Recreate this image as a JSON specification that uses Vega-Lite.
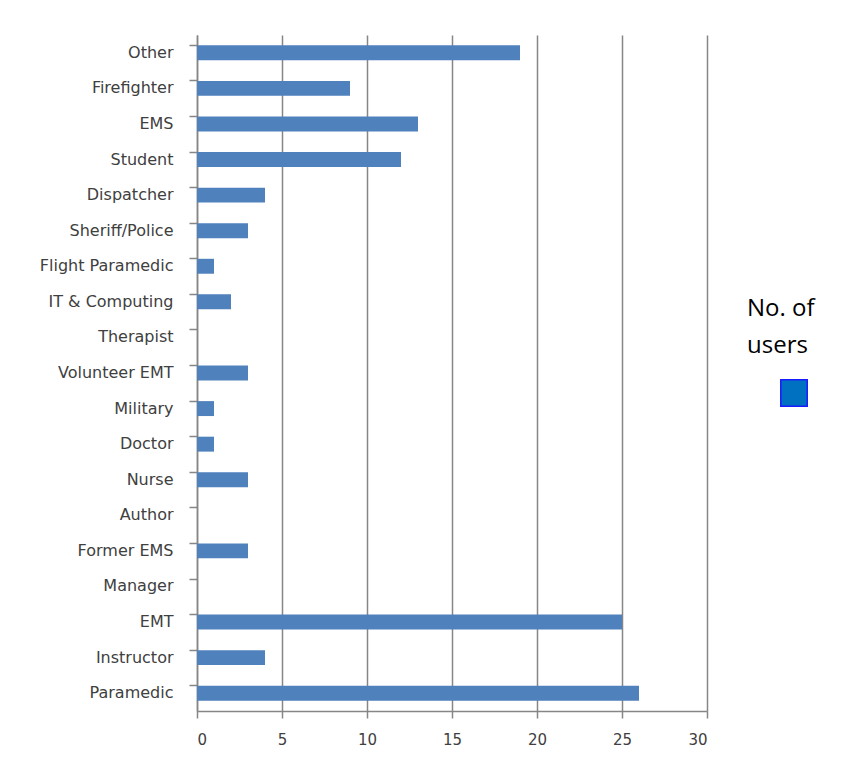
{
  "$schema": "https://vega.github.io/schema/vega-lite/v6.json",
  "width": 510,
  "height": 676,
  "autosize": "none",
  "padding": {"left": 197, "top": 35, "right": 143, "bottom": 51},
  "background": "white",
  "config": {
    "view": {"stroke": null},
    "font": "DejaVu Sans"
  },
  "data": {
    "values": [
      {"role": "Other", "users": 19, "series": "No. of users"},
      {"role": "Firefighter", "users": 9, "series": "No. of users"},
      {"role": "EMS", "users": 13, "series": "No. of users"},
      {"role": "Student", "users": 12, "series": "No. of users"},
      {"role": "Dispatcher", "users": 4, "series": "No. of users"},
      {"role": "Sheriff/Police", "users": 3, "series": "No. of users"},
      {"role": "Flight Paramedic", "users": 1, "series": "No. of users"},
      {"role": "IT & Computing", "users": 2, "series": "No. of users"},
      {"role": "Therapist", "users": 0, "series": "No. of users"},
      {"role": "Volunteer EMT", "users": 3, "series": "No. of users"},
      {"role": "Military", "users": 1, "series": "No. of users"},
      {"role": "Doctor", "users": 1, "series": "No. of users"},
      {"role": "Nurse", "users": 3, "series": "No. of users"},
      {"role": "Author", "users": 0, "series": "No. of users"},
      {"role": "Former EMS", "users": 3, "series": "No. of users"},
      {"role": "Manager", "users": 0, "series": "No. of users"},
      {"role": "EMT", "users": 25, "series": "No. of users"},
      {"role": "Instructor", "users": 4, "series": "No. of users"},
      {"role": "Paramedic", "users": 26, "series": "No. of users"}
    ]
  },
  "encoding": {
    "y": {
      "field": "role",
      "type": "nominal",
      "sort": null,
      "scale": {"paddingInner": 0.58, "paddingOuter": 0.29},
      "axis": {
        "title": null,
        "bandPosition": 0,
        "grid": false,
        "domainColor": "#868686",
        "domainWidth": 1.5,
        "tickColor": "#868686",
        "tickWidth": 1.5,
        "tickSize": 8,
        "labelPadding": 16,
        "labelFont": "DejaVu Sans",
        "labelFontSize": 16,
        "labelColor": "#404040",
        "labelBaseline": "middle"
      }
    },
    "x": {
      "field": "users",
      "type": "quantitative",
      "scale": {"domain": [0, 30], "nice": false},
      "axis": {
        "title": null,
        "values": [0, 5, 10, 15, 20, 25, 30],
        "grid": true,
        "gridColor": "#868686",
        "gridWidth": 1.5,
        "domainColor": "#868686",
        "domainWidth": 1.5,
        "tickColor": "#868686",
        "tickWidth": 1.5,
        "tickSize": 7,
        "labelPadding": 14,
        "labelFont": "DejaVu Sans",
        "labelFontSize": 15,
        "labelColor": "#404040"
      }
    }
  },
  "layer": [
    {
      "mark": {"type": "bar", "color": "#4F81BD"}
    },
    {
      "mark": {"type": "square", "size": 0, "filled": true, "opacity": 1},
      "encoding": {
        "color": {
          "field": "series",
          "type": "nominal",
          "scale": {"range": ["#0070C0"]},
          "legend": {
            "orient": "none",
            "legendX": 550,
            "legendY": 262,
            "title": ["No. of", "users"],
            "titleFont": "Open Sans",
            "titleFontSize": 24,
            "titleFontWeight": "normal",
            "titleColor": "#000000",
            "titleLineHeight": 37,
            "titlePadding": 21,
            "symbolType": "square",
            "symbolSize": 700,
            "symbolOffset": 33,
            "symbolStrokeColor": "#1a1aff",
            "symbolStrokeWidth": 1.5,
            "symbolOpacity": 1,
            "labelExpr": "''"
          }
        }
      }
    }
  ]
}
